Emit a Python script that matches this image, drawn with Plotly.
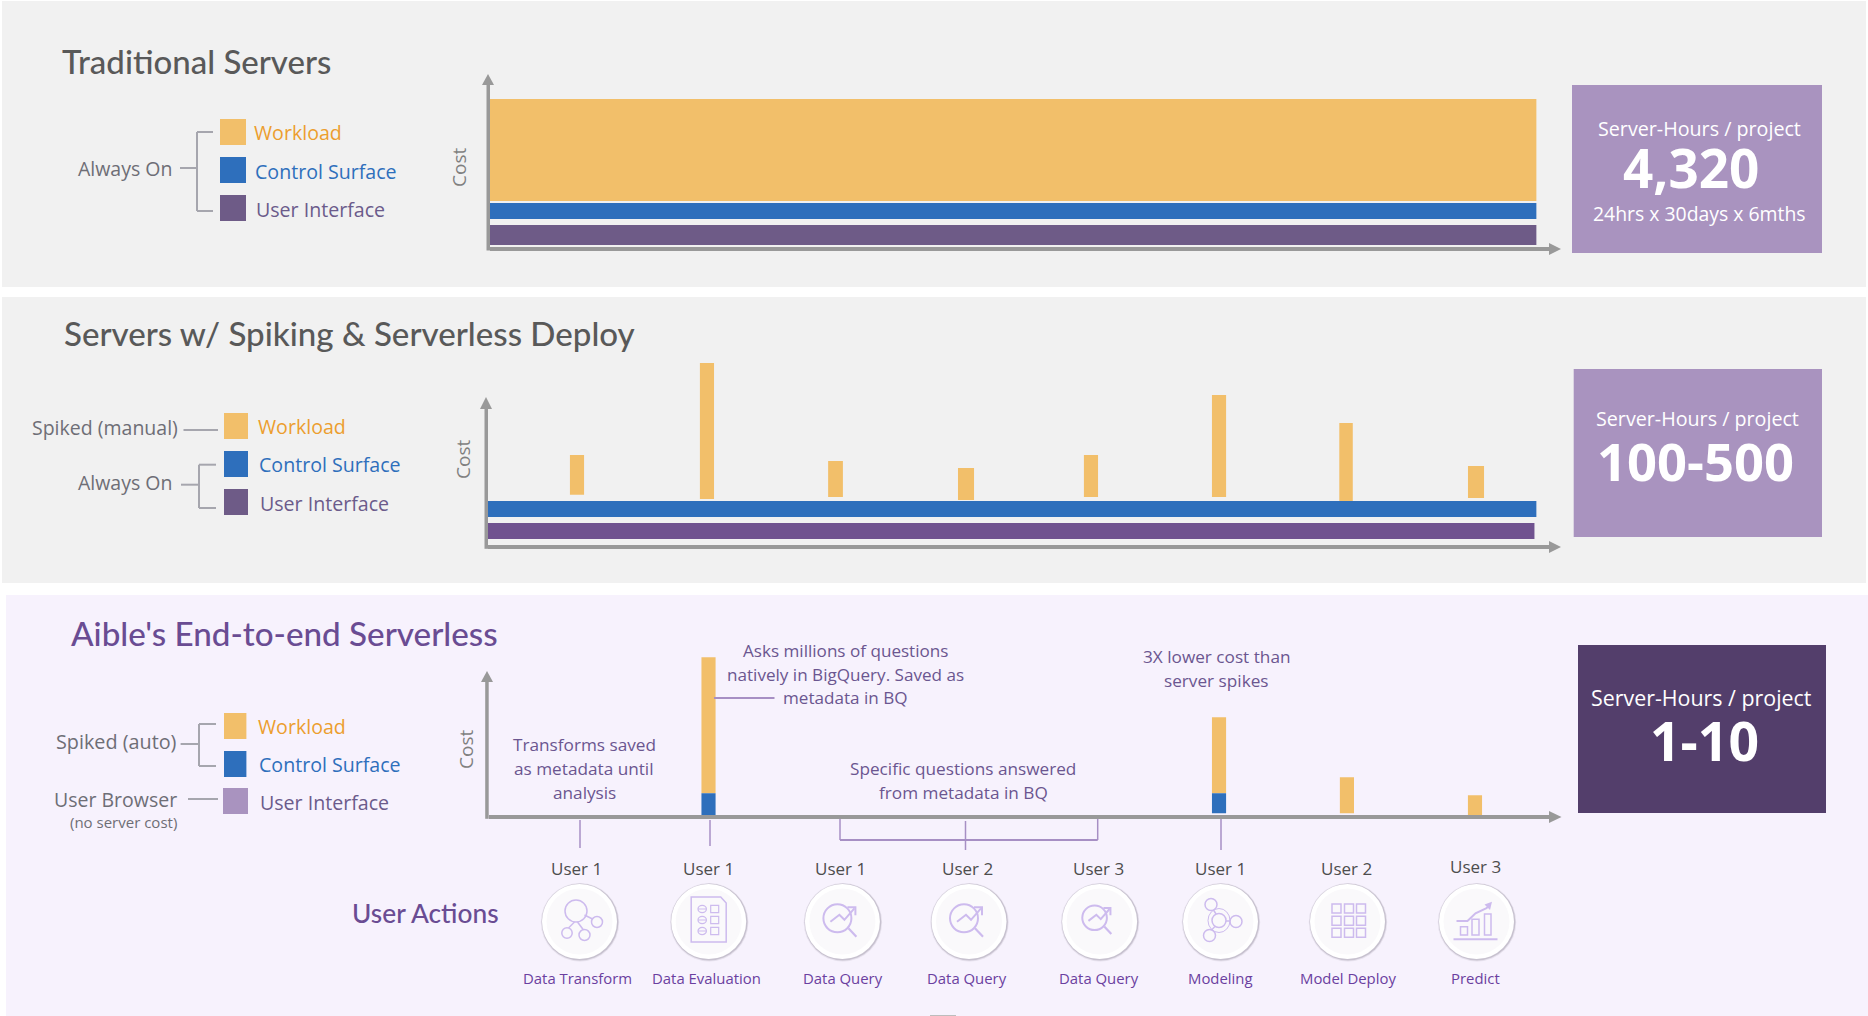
import plotly.graph_objects as go

# ---------- data (cost units are arbitrary; time in user-action slots) ----------
user_names = ["User 1", "User 1", "User 1", "User 2", "User 3", "User 1", "User 2", "User 3"]
action_names = ["Data Transform", "Data Evaluation", "Data Query", "Data Query", "Data Query",
                "Modeling", "Model Deploy", "Predict"]

always_on_start = -0.68
always_on_end = 7.47

trad_workload_base, trad_workload = 46, 102
trad_control_base, trad_control = 28, 16
trad_ui_base, trad_ui = 2, 20

spike_time = [0.0, 1.012, 2.013, 3.029, 4.002, 4.999, 5.988, 7.0]
spike_base = [50.6, 46.3, 48.3, 45.3, 48.3, 48.3, 44.3, 47.3]
spike_cost = [39.7, 136.0, 36.0, 32.0, 42.0, 102.0, 78.0, 32.0]
spike_control_base, spike_control = 28.3, 16
spike_ui_base, spike_ui = 6.3, 16
spike_ui_end = 7.455

aible_time = [1.024, 4.999, 5.995, 6.992]
aible_control_base = [0, 2, 0, 0]
aible_control = [22, 20, 0, 0]
aible_workload_base = [22, 22, 2, 0]
aible_workload = [136, 76, 36, 20]

# ---------- page + style ----------
W, H = 1868, 1016
YELLOW, BLUE, UI1, UI2, LILAC, DARK = "#F2BF6A", "#2E6FBC", "#6E5B87", "#70528F", "#A993BF", "#533E6B"
GREY_AXIS = "#999999"
GREY_BR = "#A6A6AE"
TXT_GREY = "#595959"
TXT_MID = "#6E6E76"
PURPLE_T = "#6A4C93"
NOTE = "#6B5690"
ACTION = "#6B3FA0"
ICON = "#CDBBEE"
BODY = "Open Sans"
HEAD = "Lato"

def xp(x): return x / W
def yp(y): return 1 - y / H

shapes, annos = [], []

def rect(x0, y0, x1, y1, fill, layer="below"):
    shapes.append(dict(type="rect", xref="paper", yref="paper", x0=xp(x0), x1=xp(x1), y0=yp(y0), y1=yp(y1),
                       fillcolor=fill, line=dict(width=0), layer=layer))

def line(x0, y0, x1, y1, color=GREY_BR, width=2):
    shapes.append(dict(type="line", xref="paper", yref="paper", x0=xp(x0), x1=xp(x1), y0=yp(y0), y1=yp(y1),
                       line=dict(color=color, width=width), layer="above"))

def poly(pts, fill=None, color=None, width=1.5, close=True):
    p = "M " + " L ".join(f"{xp(a):.6f},{yp(b):.6f}" for a, b in pts) + (" Z" if close else "")
    shapes.append(dict(type="path", xref="paper", yref="paper", path=p, fillcolor=fill or "rgba(0,0,0,0)",
                       line=dict(color=color or "rgba(0,0,0,0)", width=width if color else 0), layer="above"))

def circ(cx, cy, r, fill="rgba(0,0,0,0)", color=None, width=1.5, ry=None):
    ry = ry or r
    shapes.append(dict(type="circle", xref="paper", yref="paper", x0=xp(cx - r), x1=xp(cx + r),
                       y0=yp(cy + ry), y1=yp(cy - ry), fillcolor=fill,
                       line=dict(color=color or "rgba(0,0,0,0)", width=width if color else 0), layer="above"))

def text(x, y, s, size, color, anchor="left", family=BODY, angle=0, weight=400):
    annos.append(dict(xref="paper", yref="paper", x=xp(x), y=yp(y - 1), text=s, showarrow=False, xanchor=anchor,
                      yanchor="middle", textangle=angle, borderpad=0, borderwidth=0,
                      font=dict(size=size, color=color, family=family, weight=weight)))

# ---------- panel backgrounds ----------
rect(2, 1, 1866, 287, "#F1F1F1")
rect(2, 297, 1866, 583, "#F1F1F1")
rect(6, 595, 1868, 1016, "#F7F2FD")
rect(930, 1015, 956, 1016, "#BDBDBD")

# ---------- traces ----------
fig = go.Figure()

def axes(n, left, right, top, bottom, t0_px=577.0, unit=128.43):
    xname, yname = ("xaxis", "yaxis") if n == 1 else (f"xaxis{n}", f"yaxis{n}")
    sfx = "" if n == 1 else str(n)
    ax = dict(showgrid=False, zeroline=False, showticklabels=False, ticks="", fixedrange=True)
    return {
        xname: dict(ax, showline=True, linecolor=GREY_AXIS, linewidth=3.5, domain=[xp(left), xp(right)],
                    anchor="y" + sfx, range=[(left - t0_px) / unit, (right - t0_px) / unit]),
        yname: dict(ax, showline=False, domain=[yp(bottom), yp(top)], anchor="x" + sfx, range=[0, bottom - top]),
    }

def bar(n, x, y, base, color, width):
    sfx = "" if n == 1 else str(n)
    fig.add_trace(go.Bar(x=x, y=y, base=base, width=width, marker=dict(color=color, line=dict(width=0)),
                         xaxis="x" + sfx, yaxis="y" + sfx, showlegend=False, hoverinfo="skip", cliponaxis=False))

span = always_on_end - always_on_start
mid = (always_on_end + always_on_start) / 2
bar(1, [mid], [trad_workload], [trad_workload_base], YELLOW, [span])
bar(1, [mid], [trad_control], [trad_control_base], BLUE, [span])
bar(1, [mid], [trad_ui], [trad_ui_base], UI1, [span])

start2 = -0.695
bar(2, [(always_on_end + start2) / 2], [spike_control], [spike_control_base], BLUE, [always_on_end - start2])
bar(2, [(spike_ui_end + start2) / 2], [spike_ui], [spike_ui_base], UI2, [spike_ui_end - start2])
bar(2, spike_time, spike_cost, spike_base, YELLOW, [0.11, 0.11, 0.115, 0.125, 0.11, 0.11, 0.105, 0.125])

bar(3, aible_time, aible_workload, aible_workload_base, YELLOW, 0.11)
bar(3, aible_time, aible_control, aible_control_base, BLUE, 0.11)

layout_axes = {}
layout_axes.update(axes(1, 490, 1549, 85, 247))
layout_axes.update(axes(2, 488, 1549, 340, 545.3))
layout_axes.update(axes(3, 488.7, 1549, 640, 815.3))

# ---------- cost-axis lines and arrow heads ----------
for left, top, bottom in [(490, 85, 250.5), (488, 409, 548.8), (488.7, 682, 818.8)]:
    rect(left - 3.5, top, left, bottom, GREY_AXIS, layer="above")
for cx, tip, base in [(488, 74, 85), (486, 397, 409), (487, 671, 682)]:
    poly([(cx - 6, base), (cx + 6, base), (cx, tip)], fill=GREY_AXIS)
for tipx, cy in [(1561, 249), (1561, 547), (1561.5, 817)]:
    poly([(1549, cy - 6), (1549, cy + 6), (tipx, cy)], fill=GREY_AXIS)

# ---------- titles ----------
text(62, 62, "Traditional Servers", 33, TXT_GREY, family=HEAD, weight=500)
text(64, 334, "Servers w/ Spiking &amp; Serverless Deploy", 33.1, TXT_GREY, family=HEAD, weight=500)
text(71, 634, "Aible's End-to-end Serverless", 33.2, PURPLE_T, family=HEAD, weight=500)
text(352, 914, "User Actions", 26.3, PURPLE_T, family=HEAD, weight=500)

# ---------- legends ----------
def legend(sw_x0, sw_x1, rows, label_xs, label_ys):
    names = [("Workload", "#EC9E2E"), ("Control Surface", BLUE), ("User Interface", "#6B5B8B")]
    for (top, bot, col), lx, ly, (nm, nc) in zip(rows, label_xs, label_ys, names):
        rect(sw_x0, top, sw_x1, bot, col, layer="above")
        text(lx, ly, nm, 19.6, nc)

legend(220, 246, [(119, 145, YELLOW), (157, 183, BLUE), (195, 221, UI1)], [254, 255, 256], [133, 172, 211])
legend(224, 248, [(413, 439, YELLOW), (451, 477, BLUE), (489, 515, UI1)], [258, 258.5, 260], [428, 465, 504.5])
legend(224, 246.4, [(713, 739, YELLOW), (751, 777, BLUE)], [257.5, 258.5], [727, 765])
rect(223, 788, 248, 814, LILAC, layer="above")
text(260, 803.5, "User Interface", 19.6, "#6B5B8B")

text(172, 169, "Always On", 19.5, TXT_MID, "right")
for seg in [(180, 168, 197, 168), (197, 132, 197, 211), (197, 132, 213, 132), (197, 211, 213, 211)]:
    line(*seg)
text(177.5, 428.5, "Spiked (manual)", 19.5, TXT_MID, "right")
line(183.5, 430, 218, 430)
text(172, 483.5, "Always On", 19.5, TXT_MID, "right")
for seg in [(181, 484.7, 199, 484.7), (199, 464.7, 199, 508), (199, 464.7, 216, 464.7), (199, 508, 216, 508)]:
    line(*seg)
text(176.5, 742.5, "Spiked (auto)", 19.8, TXT_MID, "right")
for seg in [(180.6, 744, 199, 744), (199, 724, 199, 766), (199, 724, 216, 724), (199, 766, 216, 766)]:
    line(*seg)
text(176.5, 800.5, "User Browser", 19.5, TXT_MID, "right")
text(176.5, 822.5, "(no server cost)", 15, TXT_MID, "right")
line(188, 799, 218, 799)

for cx, cy in [(459, 168), (463, 460), (466, 750)]:
    text(cx, cy + 1, "Cost", 19, "#7F7F7F", "center", angle=-90)

# ---------- value boxes ----------
rect(1572, 85, 1822, 253, LILAC, layer="above")
text(1699, 129, "Server-Hours / project", 19.7, "white", "center")
text(1691, 168, "<b>4,320</b>", 53, "white", "center")
text(1699.5, 215, "24hrs x 30days x 6mths", 19.4, "white", "center")
rect(1573.7, 369, 1822, 537, LILAC, layer="above")
text(1697, 419.5, "Server-Hours / project", 19.7, "white", "center")
text(1695, 461.5, "<b>100-500</b>", 52.5, "white", "center")
rect(1578, 645, 1826, 813, DARK, layer="above")
text(1701.5, 698, "Server-Hours / project", 21.4, "white", "center")
text(1704, 741, "<b>1-10</b>", 53.5, "white", "center")

# ---------- notes on panel 3 ----------
for y, s in zip([651, 675, 698], ["Asks millions of questions", "natively in BigQuery. Saved as", "metadata in BQ"]):
    text(845, y, s, 17.1, NOTE, "center")
for y, s in zip([657, 681], ["3X lower cost than", "server spikes"]):
    text(1216, y, s, 17.2, NOTE, "center")
for y, s in zip([769, 793], ["Specific questions answered", "from metadata in BQ"]):
    text(963, y, s, 17.2, NOTE, "center")
for y, s in zip([745, 769, 793], ["Transforms saved", "as metadata until", "analysis"]):
    text(584, y, s, 17.2, NOTE, "center")

LEAD = "#A78FC4"
line(714, 698, 774.5, 698, LEAD, 2)
line(580, 820, 580, 848, LEAD, 1.5)
line(710, 820, 710, 846, LEAD, 1.5)
line(840, 819, 840, 840, LEAD, 1.5)
line(1097.7, 819, 1097.7, 840, LEAD, 1.5)
line(840, 840, 1097.7, 840, LEAD, 2)
line(965.5, 821, 965.5, 850, LEAD, 1.5)
line(1221, 819, 1221, 850, LEAD, 1.5)

# ---------- user action row ----------
user_x = [576, 708.7, 840.4, 967, 1098, 1220, 1346.6, 1475.6]
user_y = [869, 869, 869, 869, 869, 869, 869, 867]
action_x = [577.5, 706.5, 842.7, 967, 1099, 1220.8, 1347.5, 1475]
circle_x = [579.5, 708.7, 842.4, 969, 1099.6, 1220.5, 1347.5, 1476.5]
CY = 921.5

for cx, ux, uy, ax_, u, a in zip(circle_x, user_x, user_y, action_x, user_names, action_names):
    text(ux, uy, u, 17, "#4D4D4D", "center")
    text(ax_, 979, a, 14.9, ACTION, "center", weight=500)
    circ(cx + 0.5, CY + 0.8, 39.2, fill="rgba(90,80,100,0.10)")
    circ(cx + 0.5, CY + 0.5, 38.4, fill="rgba(90,80,100,0.22)")
    circ(cx, CY, 37.5, fill="white")
    circ(cx, CY, 33, fill="#FAF9FB")

def icon_transform(c):
    circ(c - 3.5, 911, 11, color=ICON)
    circ(c + 17.5, 922, 5.5, color=ICON)
    circ(c - 12.5, 933, 5.2, color=ICON)
    circ(c + 5, 935, 5.5, color=ICON)
    line(c + 5, 915, c + 13, 919, ICON, 1.5)
    line(c - 5, 922, c - 11, 928, ICON, 1.5)
    line(c - 2, 922, c + 4, 930, ICON, 1.5)

def icon_eval(c):
    poly([(c - 17.5, 897), (c + 12, 897), (c + 17.5, 903), (c + 17.5, 942), (c - 17.5, 942)], color=ICON)
    for y in [909, 920, 931]:
        circ(c - 6.5, y, 4.2, color=ICON, width=1.2, ry=3.6)
        line(c - 10.7, y, c - 2.3, y, ICON, 1)
        poly([(c + 2, y - 3.7), (c + 10, y - 3.7), (c + 10, y + 3.7), (c + 2, y + 3.7)], color=ICON, width=1.2)

def icon_query(c, k=1.0, dy=0.0):
    o = -5
    Y = 918.3 + dy
    circ(c + o, Y, 14 * k, color=ICON, width=2)
    line(c + o + 11 * k, Y + 10 * k, c + o + 19 * k, Y + 18.5 * k, ICON, 2.2)
    poly([(c + o - 7 * k, Y + 3.5 * k), (c + o + 2 * k, Y - 3.5 * k), (c + o + 7 * k, Y + 1.5 * k),
          (c + o + 17 * k, Y - 10 * k)], color=ICON, width=2, close=False)
    poly([(c + o + 10 * k, Y - 11 * k), (c + o + 18 * k, Y - 11 * k), (c + o + 18 * k, Y - 3 * k)],
         color=ICON, width=2, close=False)

def icon_model(c):
    circ(c - 9.5, 904.5, 6, color=ICON)
    circ(c - 1.5, 920.5, 7, color=ICON)
    circ(c + 15.5, 921.5, 6, color=ICON)
    circ(c - 11, 935.5, 6, color=ICON)
    circ(c - 1.5, 920.5, 11, color=ICON, width=1, ry=12)
    line(c - 7, 910, c - 4.5, 914, ICON, 1.5)
    line(c + 5.5, 921, c + 9.5, 921, ICON, 1.5)
    line(c - 9, 930, c - 5.5, 926.5, ICON, 1.5)

def icon_deploy(c):
    for dx in [-11, 1.5, 13.5]:
        for y in [908.5, 920.7, 932.7]:
            poly([(c + dx - 4.5, y - 4.5), (c + dx + 4.5, y - 4.5), (c + dx + 4.5, y + 4.5), (c + dx - 4.5, y + 4.5)],
                 color=ICON, width=1.5)

def icon_predict(c):
    line(c - 23, 939.3, c + 21, 939.3, ICON, 2)
    for a, b, t in [(-16, -9, 926.7), (-4.5, 2.5, 919.3), (8, 14.5, 914)]:
        poly([(c + a, t), (c + b, t), (c + b, 935), (c + a, 935)], color=ICON, width=1.5)
    poly([(c - 20, 921), (c - 9, 921), (c - 1, 913.3), (c + 9.5, 908.3), (c + 13, 906)], color=ICON, width=2, close=False)
    poly([(c + 15.5, 901.7), (c + 13.5, 910), (c + 8, 904.5)], fill=ICON)

icon_transform(circle_x[0])
icon_eval(circle_x[1])
icon_query(circle_x[2])
icon_query(circle_x[3])
icon_query(circle_x[4], 0.88, -0.5)
icon_model(circle_x[5])
icon_deploy(circle_x[6])
icon_predict(circle_x[7])

fig.update_layout(width=W, height=H, margin=dict(l=0, r=0, t=0, b=0, pad=0), paper_bgcolor="white",
                  plot_bgcolor="rgba(0,0,0,0)", barmode="overlay", shapes=shapes, annotations=annos,
                  showlegend=False, **layout_axes)

fig.write_html("out.html", config=dict(displayModeBar=False),
               post_script="document.body.style.margin='0';document.documentElement.style.overflow='hidden';")
